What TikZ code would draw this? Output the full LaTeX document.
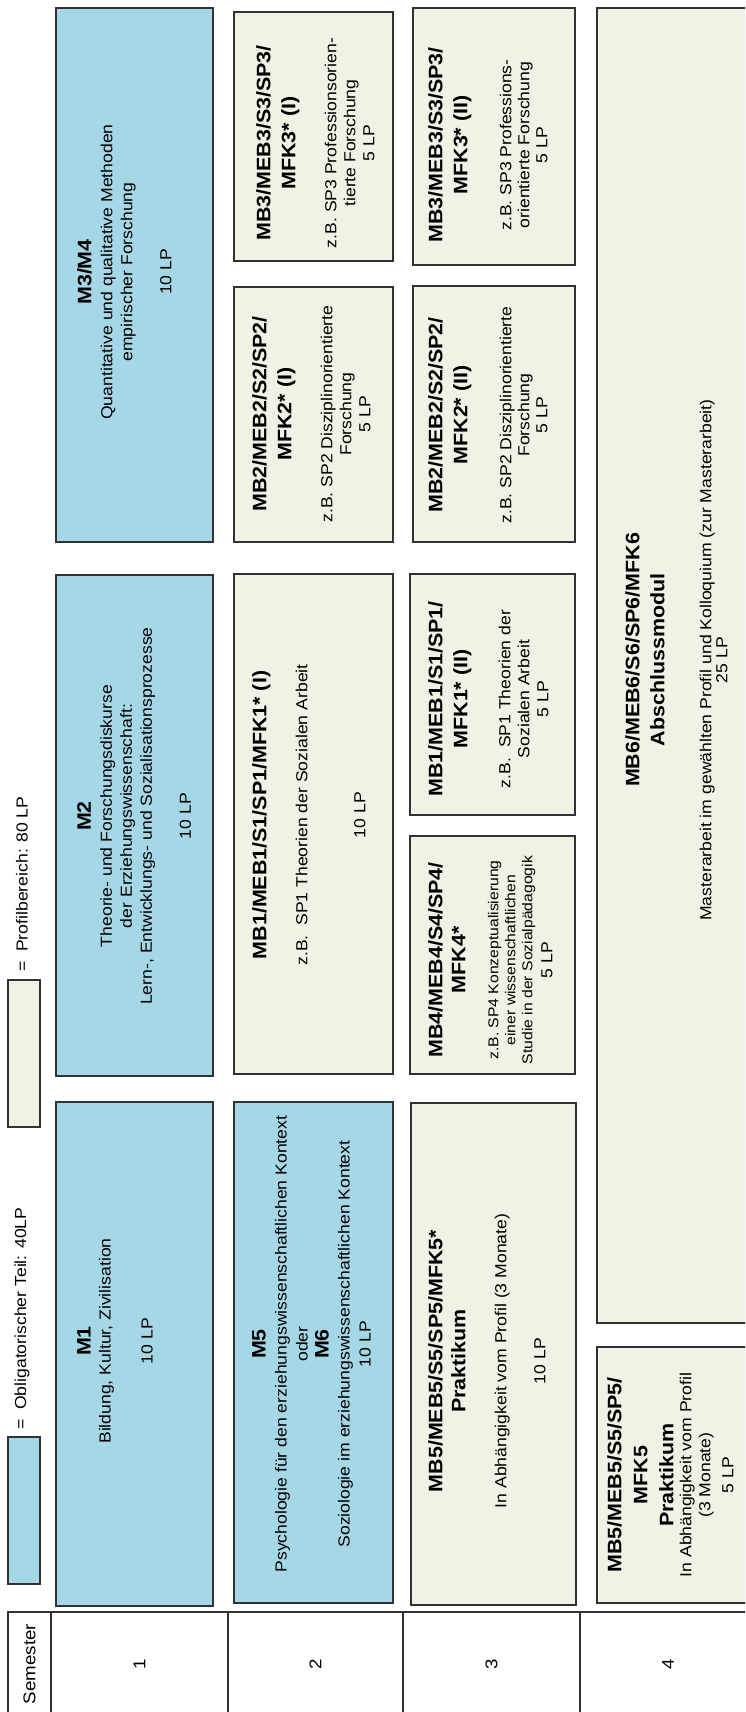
\documentclass[tikz,border=0pt]{standalone}
\usepackage{fontspec}
\setmainfont{Liberation Sans}[FakeStretch=1.1]
\usepackage{tikz}

\definecolor{oblblue}{RGB}{166,215,231}
\definecolor{profbeige}{RGB}{239,242,228}
\definecolor{linegray}{RGB}{50,50,50}

\newcommand{\ttl}[1]{{\fontsize{19.5}{23}\selectfont\bfseries #1}}
\newcommand{\sml}[1]{{\fontsize{14.3}{17}\selectfont #1}}

\begin{document}
\begin{tikzpicture}[x=1pt, y=-1pt,
    oblbox/.style={draw=linegray, fill=oblblue, line width=1.3pt, inner sep=0pt},
    profbox/.style={draw=linegray, fill=profbeige, line width=1.3pt, inner sep=0pt},
    cell/.style={draw=linegray, line width=1.2pt, inner sep=0pt, rotate=90, font=\fontsize{17}{20}\selectfont},
    txt/.style={rotate=90, anchor=north, inner sep=0pt, align=center, font=\fontsize{16}{20}\selectfont}]
            % Studienverlauf (gedreht)
            \useasboundingbox (0,0) rectangle (745,1712);
            \clip (0,0) rectangle (745,1712);

            % Legende
            \node[oblbox, minimum width=32pt, minimum height=147pt] at (24,1510.5) (LEGOBL) {};
            \node[txt, anchor=west] at (22,1430) (legobl) {=\ \ Obligatorischer Teil: 40LP};
            \node[profbox, minimum width=32pt, minimum height=147pt] at (24,1053.5) (LEGPROF) {};
            \node[txt, anchor=west] at (22,972) (legprof) {=\ \ Profilbereich: 80 LP};

            % Semester-Zeile
            \node[cell, minimum width=104pt, minimum height=43pt] at (29.5,1664) (SEM) {Semester};
            \node[cell, minimum width=104pt, minimum height=177pt] at (139.5,1664) (SEM1) {1};
            \node[cell, minimum width=104pt, minimum height=175pt] at (315.5,1664) (SEM2) {2};
            \node[cell, minimum width=104pt, minimum height=177pt] at (491.5,1664) (SEM3) {3};
            \node[cell, minimum width=104pt, minimum height=176pt] at (668,1664) (SEM4) {4};

            % 1. Semester
            \node[oblbox, minimum width=157pt, minimum height=504pt] at (134.5,1354) (M1) {};
            \node[oblbox, minimum width=157pt, minimum height=501pt] at (134.5,825.5) (M2) {};
            \node[oblbox, minimum width=157pt, minimum height=534pt] at (134.5,275) (M34) {};

            \node[txt] at (77,1341) (m1) {\ttl{M1}\\ Bildung, Kultur, Zivilisation\\[22pt] 10 LP};
            \node[txt] at (77,816) (m2) {\ttl{M2}\\[1pt] Theorie- und Forschungsdiskurse\\ der Erziehungswissenschaft:\\ Lern-, Entwicklungs- und Sozialisationsprozesse\\[19pt] 10 LP};
            \node[txt] at (77,272) (m34) {\ttl{M3/M4}\\[1pt] Quantitative und qualitative Methoden\\ empirischer Forschung\\[19pt] 10 LP};

            % 2. Semester
            \node[oblbox, minimum width=159pt, minimum height=501pt] at (313.5,1352.5) (M56) {};
            \node[profbox, minimum width=159pt, minimum height=500pt] at (313.5,824) (MB1a) {};
            \node[profbox, minimum width=159pt, minimum height=255pt] at (313.5,414.5) (MB2a) {};
            \node[profbox, minimum width=159pt, minimum height=249pt] at (313.5,136.5) (MB3a) {};

            \node[txt, font=\fontsize{16}{21}\selectfont] at (252,1344) (m56) {\ttl{M5}\\ Psychologie für den erziehungswissenschaftlichen Kontext\\ oder\\ \ttl{M6}\\ Soziologie im erziehungswissenschaftlichen Kontext\\ 10 LP};
            \node[txt] at (252,815) (mb1a) {\ttl{MB1/MEB1/S1/SP1/MFK1* (I)}\\[21pt] z.B.\ \ SP1 Theorien der Sozialen Arbeit\\[38pt] 10 LP};
            \node[txt, font=\fontsize{16}{19}\selectfont] at (252,414) (mb2a) {\ttl{MB2/MEB2/S2/SP2/}\\[6pt] \ttl{MFK2* (I)}\\[22pt] z.B. SP2 Disziplinorientierte\\ Forschung\\ 5 LP};
            \node[txt, font=\fontsize{16}{19}\selectfont] at (256,143) (mb3a) {\ttl{MB3/MEB3/S3/SP3/}\\[6pt] \ttl{MFK3* (I)}\\[22pt] z.B. SP3 Professionsorien-\\ tierte Forschung\\ 5 LP};

            % 3. Semester
            \node[profbox, minimum width=165pt, minimum height=502pt] at (493.5,1354) (MB5a) {};
            \node[profbox, minimum width=165pt, minimum height=238pt] at (492.5,955) (MB4) {};
            \node[profbox, minimum width=165pt, minimum height=241pt] at (492.5,694.5) (MB1b) {};
            \node[profbox, minimum width=162pt, minimum height=256pt] at (494,414) (MB2b) {};
            \node[profbox, minimum width=162pt, minimum height=257pt] at (494,136.5) (MB3b) {};

            \node[txt] at (428,1361) (mb5a) {\ttl{MB5/MEB5/S5/SP5/MFK5*}\\[3pt] \ttl{Praktikum}\\[21pt] In Abhängigkeit vom Profil (3 Monate)\\[19pt] 10 LP};
            \node[txt, font=\fontsize{14.3}{17}\selectfont] at (428,960) (mb4) {\ttl{MB4/MEB4/S4/SP4/}\\[6pt] \ttl{MFK4*}\\[16pt] z.B. SP4 Konzeptualisierung\\ einer wissenschaftlichen\\ Studie in der Sozialpädagogik\\[3pt] {\fontsize{16}{20}\selectfont 5 LP}};
            \node[txt, font=\fontsize{16}{19}\selectfont] at (428,699) (mb1b) {\ttl{MB1/MEB1/S1/SP1/}\\[6pt] \ttl{MFK1* (II)}\\[24pt] z.B.\ \ SP1 Theorien der\\ Sozialen Arbeit\\ 5 LP};
            \node[txt, font=\fontsize{16}{18}\selectfont] at (428,415) (mb2b) {\ttl{MB2/MEB2/S2/SP2/}\\[7pt] \ttl{MFK2* (II)}\\[26pt] z.B. SP2 Disziplinorientierte\\ Forschung\\ 5 LP};
            \node[txt, font=\fontsize{16}{18}\selectfont] at (428,145) (mb3b) {\ttl{MB3/MEB3/S3/SP3/}\\[7pt] \ttl{MFK3* (II)}\\[26pt] z.B. SP3 Professions-\\ orientierte Forschung\\ 5 LP};

            % 4. Semester
            \node[profbox, minimum width=183pt, minimum height=1315pt] at (688.5,665.5) (MB6) {};
            \node[profbox, minimum width=183pt, minimum height=256pt] at (688.5,1475) (MB5b) {};

            \node[txt, font=\fontsize{16}{16}\selectfont] at (625,660) (mb6) {\ttl{MB6/MEB6/S6/SP6/MFK6}\\[9pt] \ttl{Abschlussmodul}\\[31pt] Masterarbeit im gewählten Profil und Kolloquium (zur Masterarbeit)\\ 25 LP};
            \node[txt, font=\fontsize{16}{19}\selectfont] at (607,1475) (mb5b) {\ttl{MB5/MEB5/S5/SP5/}\\[7pt] \ttl{MFK5}\\[7pt] \ttl{Praktikum}\\[-1pt] In Abhängigkeit vom Profil\\ (3 Monate)\\[4pt] 5 LP};
        \end{tikzpicture}
\end{document}
